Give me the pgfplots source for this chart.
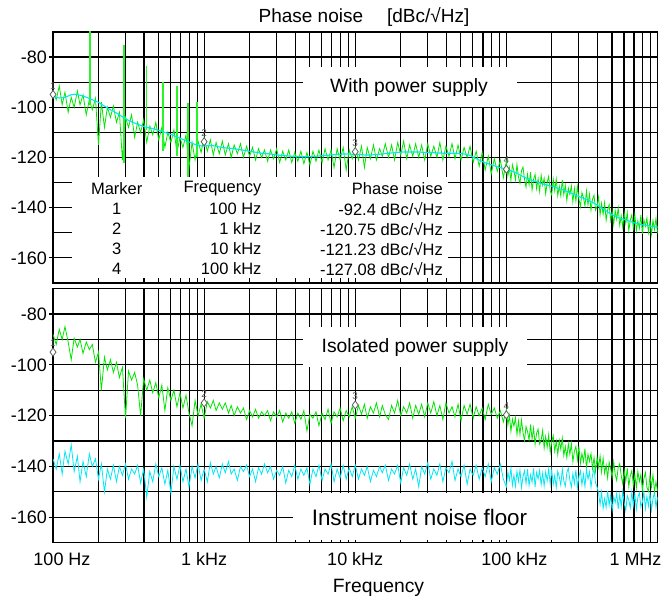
\documentclass[border=0pt]{standalone}
\usepackage{pgfplots}
\pgfplotsset{compat=1.18}
\usepackage{pgfplotstable}
\usepackage{fontspec}
\setmainfont{Liberation Sans}
\definecolor{trgreen}{RGB}{0,230,0}
\definecolor{spgreen}{RGB}{40,245,40}
\definecolor{trcyan}{RGB}{0,232,245}
\definecolor{mkgray}{RGB}{95,95,95}

\pgfplotstableread{
f tg tc bg bc
100 -93 -95.5 -88 -137
105 -97 -96 -92 -141
110 -91.5 -96.3 -86 -135
115 -99 -96.2 -90 -143
120 -94 -96 -85 -134
126 -102 -95.5 -91 -139
132 -96 -95 -98 -131.5
138 -100 -94.8 -89.5 -142
145 -93.5 -94.9 -93 -136
151 -99 -95.2 -90 -146
158 -95 -95.5 -95.5 -138
166 -103 -96 -91 -144
174 -97 -96.5 -94 -135
182 -101 -97 -92 -140
191 -96.5 -97.5 -99 -137
200 -115 -98 -95 -145
209 -98 -98.8 -110 -139
219 -108 -99.5 -97 -150
229 -100 -100.2 -102 -141
240 -104 -101 -98 -145
251 -99.5 -101.5 -103 -139.5
263 -106 -102.3 -99 -146
275 -102 -103 -105 -140
288 -121 -103.8 -101 -143.5
302 -104 -104.5 -121 -139
316 -108 -105.2 -102.5 -145
331 -103 -105.8 -106 -141
347 -112 -106.3 -103 -143
363 -106 -106.8 -108 -139.5
380 -110 -107.2 -120 -146.5
398 -105 -107.6 -105.5 -141
417 -114 -108 -110 -152
437 -107.5 -108.2 -106 -142
457 -111 -108.5 -111 -146
479 -106 -108.8 -107 -139
501 -113 -109.2 -113 -144
525 -108 -109.6 -108 -140.5
550 -116 -110 -118 -147
575 -110 -110.4 -109 -141.5
603 -114 -110.8 -114 -150.5
631 -109 -111.3 -110 -140
661 -118 -111.8 -116.5 -145
692 -112 -112.3 -111 -139.5
724 -116 -112.8 -117 -146
759 -111 -113.3 -112 -141
794 -124 -113.8 -119 -148
832 -114 -114.3 -124 -140
871 -121 -114.8 -114 -144.5
912 -113.5 -115.2 -120 -139
955 -118 -115.4 -115.5 -145.5
1000 -112 -115.5 -121 -141
1050 -117.5 -115.3 -114.5 -146
1100 -113 -115.2 -117 -138.5
1150 -119 -115.3 -114 -143
1200 -114 -115.5 -118 -140
1260 -118.5 -115.8 -115 -144.5
1320 -113.5 -116 -117.5 -139
1380 -119 -116.2 -115 -142.5
1450 -114.5 -116.3 -119 -138
1510 -120 -116.4 -116 -143
1580 -115 -116.5 -120 -141
1660 -118.5 -116.7 -116.5 -145.5
1740 -114.5 -116.9 -119 -140
1820 -120 -117.1 -117 -142
1910 -115.5 -117.3 -121.5 -139.5
2000 -119.5 -117.5 -118 -144
2090 -116 -117.7 -120.5 -141
2190 -121 -117.9 -117.5 -146
2290 -116.5 -118.1 -121 -140.5
2400 -120 -118.3 -118.5 -143
2510 -117 -118.4 -120 -139
2630 -121.5 -118.5 -118 -142.5
2750 -117 -118.6 -122 -140
2880 -120.5 -118.8 -118.5 -145
3020 -116.5 -119 -120.5 -141.5
3160 -122 -119.1 -118 -143.5
3310 -117.5 -119.2 -122.5 -140
3470 -121 -119.3 -119 -146.5
3630 -117 -119.4 -121 -141.5
3800 -122 -119.5 -118.5 -144
3980 -118 -119.6 -123 -139.5
4170 -121.5 -119.6 -119 -145
4370 -117.5 -119.7 -121.5 -141
4570 -122.5 -119.7 -118 -143.5
4790 -118 -119.7 -126 -140.5
5010 -123 -119.6 -119.5 -147
5250 -117.5 -119.6 -121 -141
5500 -121.5 -119.5 -118.5 -144
5750 -117 -119.4 -124 -139.5
6030 -122 -119.3 -119 -145.5
6310 -116.5 -119.2 -121.5 -141
6610 -121 -119.1 -117.5 -143
6920 -117 -119 -123 -139
7240 -124 -118.9 -118.5 -146
7590 -116.5 -118.8 -120.5 -141
7940 -121 -118.7 -117 -144.5
8320 -116 -118.6 -122 -139.5
8710 -125 -118.6 -118 -145
9120 -117 -118.6 -120.5 -140.5
9550 -120.5 -118.7 -116.5 -144
10000 -116 -118.7 -121 -139.5
10500 -121 -118.8 -116 -145
11000 -115.5 -118.9 -119.5 -141
11500 -124 -119 -115.5 -143.5
12000 -116 -119 -121 -140
12600 -120.5 -119 -116.5 -146
13200 -115 -118.9 -119 -141.5
13800 -121 -118.8 -115 -144
14500 -116.5 -118.7 -120.5 -140
15100 -119.5 -118.6 -116 -142.5
15800 -114.5 -118.4 -119.5 -139.5
16600 -120 -118.3 -121.5 -145.5
17400 -115 -118.2 -116 -141
18200 -121 -118.1 -119 -143
19100 -114 -118 -114 -139.5
20000 -119 -117.9 -120 -146.5
20900 -113.5 -117.8 -116.5 -140.5
21900 -120.5 -117.8 -119 -143.5
22900 -115 -117.8 -115 -139
24000 -119.5 -117.8 -121 -145
25100 -114.5 -117.8 -116 -141
26300 -120 -117.8 -119.5 -148
27500 -115 -117.9 -115.5 -140
28800 -121 -118 -120.5 -143
30200 -114.5 -118 -115 -138.5
31600 -119.5 -118 -119 -145
33100 -115.5 -118.1 -114.5 -141
34700 -120 -118.2 -120 -143.5
36300 -114 -118.2 -116 -139
38000 -121 -118.3 -121.5 -146
39800 -115.5 -118.3 -115 -140.5
41700 -119.5 -118.3 -119 -142.5
43700 -114.5 -118.3 -116.5 -138
45700 -120.5 -118.3 -120.5 -145.5
47900 -115 -118.4 -115.5 -141
50100 -121 -118.5 -122 -144
52500 -116 -118.6 -116 -139.5
55000 -120 -118.8 -119.5 -147
57500 -115.5 -119.2 -115.5 -141
60300 -122 -119.8 -121 -143.5
63100 -117.5 -120.4 -116.5 -139.5
66100 -123.5 -121 -120 -145
69200 -118 -121.6 -117 -140.5
72400 -125 -122.1 -121.5 -144
75900 -119.5 -122.5 -115.5 -139
79400 -126.5 -122.9 -119.5 -146
83200 -120.5 -123.3 -117 -140.5
87100 -125.5 -123.7 -121 -143
91200 -121 -124 -118 -139
95500 -128 -124.3 -122.5 -145
100000 -121.4 -124.6 -117.6 -148.0
102300 -127.3 -124.8 -123.7 -142.2
104700 -124.0 -125.0 -120.0 -145.4
107200 -129.1 -125.3 -126.2 -140.7
109600 -122.9 -125.5 -121.4 -147.4
112200 -125.4 -125.8 -124.1 -143.5
114800 -128.9 -126.0 -120.8 -147.8
117500 -122.8 -126.3 -127.4 -141.9
120200 -127.8 -126.6 -122.1 -145.9
123000 -130.3 -127.0 -127.3 -141.4
125900 -125.2 -127.3 -121.7 -148.3
128800 -123.8 -127.6 -126.7 -144.0
131800 -128.7 -127.9 -129.8 -141.7
134900 -131.8 -128.2 -124.3 -146.7
138000 -126.7 -128.4 -126.2 -141.1
141300 -130.9 -128.7 -129.6 -147.5
144500 -125.8 -128.9 -123.5 -143.3
147900 -133.0 -129.1 -129.2 -146.2
151400 -128.7 -129.3 -124.9 -140.8
154900 -126.7 -129.5 -131.3 -148.1
158500 -132.4 -129.7 -126.9 -142.4
162200 -128.5 -129.9 -125.3 -144.9
166000 -133.5 -130.1 -131.2 -141.5
169800 -127.0 -130.3 -129.7 -147.2
173800 -131.0 -130.5 -125.8 -142.6
177800 -128.3 -130.7 -132.8 -147.7
182000 -134.5 -130.8 -128.2 -142.1
186200 -129.9 -131.0 -132.4 -145.6
190500 -127.5 -131.1 -127.6 -141.0
195000 -133.3 -131.3 -134.5 -147.0
199500 -134.9 -131.4 -130.2 -141.3
204200 -128.7 -131.6 -127.9 -147.0
208900 -133.3 -131.8 -134.0 -143.5
213800 -128.6 -132.0 -130.1 -148.3
218800 -135.2 -132.2 -135.3 -141.9
223900 -131.5 -132.4 -129.8 -144.1
229100 -135.2 -132.6 -133.2 -147.4
234400 -128.9 -132.8 -128.8 -141.0
239900 -134.8 -133.0 -135.7 -145.7
245500 -131.1 -133.3 -132.1 -147.8
251200 -137.1 -133.5 -136.6 -142.4
257000 -132.2 -133.8 -131.0 -140.7
263000 -134.7 -134.0 -135.2 -145.3
269200 -131.3 -134.3 -131.0 -148.1
275400 -137.7 -134.5 -138.1 -142.8
281800 -132.3 -134.8 -134.1 -146.7
288400 -137.3 -135.0 -132.1 -141.4
295100 -131.6 -135.3 -137.4 -148.4
302000 -136.5 -135.5 -132.1 -143.9
309000 -139.6 -135.8 -138.8 -141.7
316200 -134.0 -136.0 -134.9 -147.2
323600 -136.0 -136.3 -138.1 -143.1
331100 -139.3 -136.5 -133.0 -147.9
338800 -133.3 -136.8 -140.6 -141.2
346700 -138.9 -137.0 -135.2 -145.0
354800 -134.6 -137.3 -138.0 -142.1
363100 -141.0 -137.6 -134.9 -148.2
371500 -136.6 -137.9 -140.9 -143.4
380200 -135.0 -138.2 -136.5 -140.9
389000 -141.0 -138.6 -141.9 -146.5
398100 -139.5 -138.9 -136.5 -148.0
407400 -135.7 -139.3 -140.3 -150.6
416900 -142.8 -139.7 -135.9 -155.0
426600 -138.3 -140.1 -142.2 -150.1
436500 -142.6 -140.5 -136.7 -156.5
446700 -138.0 -140.9 -142.7 -152.6
457100 -145.0 -141.3 -139.4 -156.1
467700 -140.9 -141.7 -144.5 -149.6
478600 -138.8 -142.1 -138.3 -155.3
489800 -145.1 -142.5 -140.8 -151.3
501200 -141.3 -142.8 -144.3 -157.1
512900 -146.6 -143.1 -138.2 -151.9
524800 -141.1 -143.4 -143.1 -154.2
537000 -144.6 -143.7 -145.5 -150.5
549500 -140.1 -143.9 -140.3 -156.7
562300 -147.0 -144.1 -138.9 -151.0
575400 -143.3 -144.3 -143.7 -155.8
588800 -147.8 -144.5 -146.8 -149.8
602600 -142.1 -144.7 -141.7 -154.5
616600 -146.3 -144.9 -145.8 -157.3
631000 -142.0 -145.1 -140.7 -151.5
645700 -149.1 -145.3 -147.9 -153.2
660700 -145.0 -145.5 -143.6 -156.3
676100 -142.9 -145.7 -141.6 -150.0
691800 -148.1 -145.9 -147.3 -155.4
707900 -142.7 -146.1 -143.4 -150.8
724400 -149.2 -146.2 -148.4 -156.9
741300 -145.2 -146.4 -141.9 -152.2
758600 -148.2 -146.5 -145.9 -150.3
776200 -143.0 -146.7 -143.2 -155.9
794300 -150.4 -146.8 -149.4 -154.1
812800 -144.8 -146.9 -144.8 -149.9
831800 -147.4 -147.0 -142.4 -156.6
851100 -144.1 -147.1 -148.2 -151.7
871000 -149.9 -147.2 -149.8 -155.6
891300 -145.4 -147.3 -143.6 -150.6
912000 -150.6 -147.4 -148.1 -157.2
933300 -145.1 -147.5 -143.3 -152.7
955000 -148.7 -147.6 -149.8 -150.2
977200 -144.2 -147.7 -146.0 -156.1
1000000 -150.2 -147.7 -149.6 -152.0
}\data

\pgfplotsset{
  panel/.style={
    scale only axis, width=604.5pt,
    anchor=south west,
    xmin=100, xmax=1000000, ymin=-170, ymax=-70,
    xtick={100,1000,10000,100000,1000000},
    minor xtick={200,300,400,500,600,700,800,900,2000,3000,4000,5000,6000,7000,8000,9000,20000,30000,40000,50000,60000,70000,80000,90000,200000,300000,400000,500000,600000,700000,800000,900000},
    ytick={-160,-140,-120,-100,-80},
    yticklabels={-160,-140,-120,-100,-80},
    minor ytick={-170,-150,-130,-110,-90,-70},
    grid=both,
    major grid style={black, line width=1.2pt},
    minor grid style={black, line width=1.2pt},
    axis line style={black, line width=1.2pt},
    tick pos=left, tick align=outside,
    major tick length=4pt, minor tick length=0pt,
    ytick style={black, line width=1.2pt},
    xtick style={draw=none},
    tick label style={font=\fontsize{18}{18}\selectfont},
    yticklabel style={anchor=east, inner sep=0pt, xshift=-2pt},
    xticklabel style={anchor=north, inner sep=0pt, yshift=-6pt},
  },
  diamondmarks/.style={only marks, mark=diamond*, mark size=4pt,
    mark options={draw=mkgray, fill=white, line width=0.8pt},
    nodes near coords, point meta=explicit symbolic,
    nodes near coords style={font=\fontsize{10}{10}\selectfont, text=mkgray, anchor=south, inner sep=0pt, yshift=5pt}},
}

\begin{document}
\begin{tikzpicture}
\useasboundingbox (0pt,0pt) rectangle (662pt,597pt);

\begin{semilogxaxis}[panel, at={(53pt,314pt)}, height=251pt, xticklabels={}]
\addplot[trgreen, line width=0.8pt] table[x=f,y=tg]{\data};
\addplot[spgreen, line width=1.6pt] coordinates {(176,-99) (176,-68)};
\addplot[spgreen, line width=1.6pt] coordinates {(294,-122) (294,-75.2)};
\addplot[spgreen, line width=1.6pt] coordinates {(416,-109) (416,-83.6)};
\addplot[spgreen, line width=1.6pt] coordinates {(535,-117.5) (535,-89.8)};
\addplot[spgreen, line width=1.6pt] coordinates {(660,-119.3) (660,-91.5)};
\addplot[spgreen, line width=1.6pt] coordinates {(780,-128) (780,-98.3)};
\addplot[spgreen, line width=1.6pt] coordinates {(900,-120) (900,-97.8)};
\addplot[trcyan, line width=1.1pt] table[x=f,y=tc]{\data};
\addplot[diamondmarks] coordinates {(100,-94.9)[1] (1000,-113.7)[2] (10000,-117.7)[3] (100000,-124.7)[4]};
\end{semilogxaxis}

\begin{semilogxaxis}[panel, at={(53pt,54.3pt)}, height=254.1pt,
  xticklabels={\hspace*{18pt}100 Hz, 1 kHz, 10 kHz, \hspace*{16pt}100 kHz, 1 MHz\hspace*{44pt}}]
\addplot[trcyan, line width=0.8pt] table[x=f,y=bc]{\data};
\addplot[trgreen, line width=0.8pt] table[x=f,y=bg]{\data};
\addplot[diamondmarks] coordinates {(100,-95)[1] (1000,-115)[2] (10000,-115.8)[3] (100000,-119.7)[4]};
\end{semilogxaxis}

% annotation boxes
\fill[white] (303pt,490pt) rectangle (517pt,530pt);
\node[font=\fontsize{19.3}{22}\selectfont] at (409pt,509pt) {With power supply};
\fill[white] (303pt,230pt) rectangle (527pt,270pt);
\node[font=\fontsize{19.3}{22}\selectfont] at (415pt,249pt) {Isolated power supply};
\fill[white] (293pt,57pt) rectangle (577pt,104pt);
\node[font=\fontsize{22.4}{26}\selectfont] at (419.5pt,80pt) {Instrument noise floor};

% marker table
\fill[white] (72pt,319pt) rectangle (448pt,420pt);
\begin{scope}[every node/.style={font=\fontsize{16.5}{18}\selectfont, inner sep=0pt}]
\node at (116.7pt,408pt) {Marker};
\node[anchor=east] at (261.7pt,408pt) {Frequency};
\node[anchor=east] at (443pt,408pt) {Phase noise};
\node at (116.7pt,388pt) {1};
\node[anchor=east] at (261.7pt,388pt) {100 Hz};
\node[anchor=east] at (443pt,388pt) {-92.4 dBc/√Hz};
\node at (116.7pt,368pt) {2};
\node[anchor=east] at (261.7pt,368pt) {1 kHz};
\node[anchor=east] at (443pt,368pt) {-120.75 dBc/√Hz};
\node at (116.7pt,348pt) {3};
\node[anchor=east] at (261.7pt,348pt) {10 kHz};
\node[anchor=east] at (443pt,348pt) {-121.23 dBc/√Hz};
\node at (116.7pt,328pt) {4};
\node[anchor=east] at (261.7pt,328pt) {100 kHz};
\node[anchor=east] at (443pt,328pt) {-127.08 dBc/√Hz};
\end{scope}

% titles
\node[font=\fontsize{19}{22}\selectfont] at (364pt,580pt) {Phase noise\hspace{24pt}[dBc/√Hz]};
\node[font=\fontsize{19.3}{22}\selectfont] at (378.5pt,9pt) {Frequency};
\end{tikzpicture}
\end{document}
